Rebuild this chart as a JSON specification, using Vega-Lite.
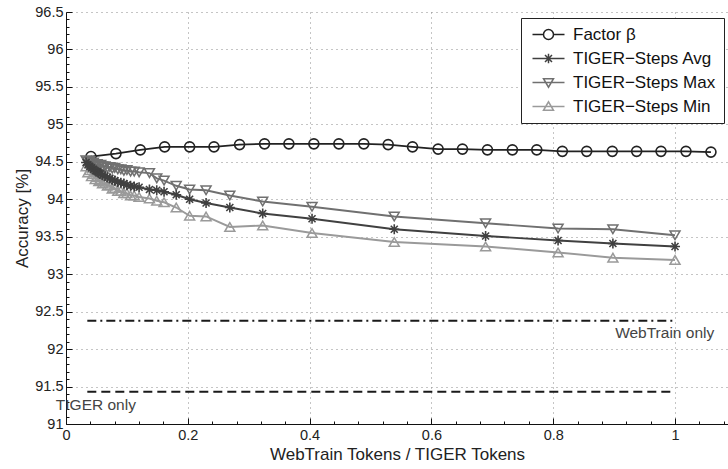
{
  "$schema": "https://vega.github.io/schema/vega-lite/v6.json",
  "width": 662,
  "height": 412,
  "autosize": {"type": "none"},
  "padding": {"left": 66, "top": 12, "right": 0, "bottom": 45},
  "background": "white",
  "config": {
    "view": {"stroke": null},
    "font": "Liberation Sans",
    "axis": {
      "domainColor": "#111",
      "domainWidth": 1,
      "tickColor": "#111",
      "labelFont": "Liberation Sans",
      "labelFontSize": 14.5,
      "labelColor": "#222",
      "titleFont": "Liberation Sans",
      "titleFontSize": 17,
      "titleFontWeight": "normal",
      "titleColor": "#222",
      "gridColor": "#8a8a8a",
      "gridDash": [1, 4],
      "gridWidth": 1,
      "labelOverlap": false,
      "labelFlush": false
    }
  },
  "datasets": {
    "curves": [
      {"series": "Factor β", "x": 0.041, "y": 94.57},
      {"series": "Factor β", "x": 0.082, "y": 94.61},
      {"series": "Factor β", "x": 0.122, "y": 94.66},
      {"series": "Factor β", "x": 0.162, "y": 94.70},
      {"series": "Factor β", "x": 0.203, "y": 94.70},
      {"series": "Factor β", "x": 0.243, "y": 94.70},
      {"series": "Factor β", "x": 0.285, "y": 94.73},
      {"series": "Factor β", "x": 0.326, "y": 94.74},
      {"series": "Factor β", "x": 0.366, "y": 94.74},
      {"series": "Factor β", "x": 0.407, "y": 94.74},
      {"series": "Factor β", "x": 0.448, "y": 94.74},
      {"series": "Factor β", "x": 0.489, "y": 94.74},
      {"series": "Factor β", "x": 0.529, "y": 94.73},
      {"series": "Factor β", "x": 0.569, "y": 94.70},
      {"series": "Factor β", "x": 0.611, "y": 94.67},
      {"series": "Factor β", "x": 0.651, "y": 94.67},
      {"series": "Factor β", "x": 0.692, "y": 94.66},
      {"series": "Factor β", "x": 0.733, "y": 94.66},
      {"series": "Factor β", "x": 0.773, "y": 94.66},
      {"series": "Factor β", "x": 0.815, "y": 94.64},
      {"series": "Factor β", "x": 0.855, "y": 94.64},
      {"series": "Factor β", "x": 0.897, "y": 94.64},
      {"series": "Factor β", "x": 0.937, "y": 94.64},
      {"series": "Factor β", "x": 0.977, "y": 94.64},
      {"series": "Factor β", "x": 1.018, "y": 94.64},
      {"series": "Factor β", "x": 1.059, "y": 94.63},

      {"series": "TIGER−Steps Max", "x": 0.033, "y": 94.52},
      {"series": "TIGER−Steps Max", "x": 0.036, "y": 94.50},
      {"series": "TIGER−Steps Max", "x": 0.039, "y": 94.51},
      {"series": "TIGER−Steps Max", "x": 0.042, "y": 94.48},
      {"series": "TIGER−Steps Max", "x": 0.045, "y": 94.49},
      {"series": "TIGER−Steps Max", "x": 0.048, "y": 94.46},
      {"series": "TIGER−Steps Max", "x": 0.051, "y": 94.47},
      {"series": "TIGER−Steps Max", "x": 0.054, "y": 94.45},
      {"series": "TIGER−Steps Max", "x": 0.057, "y": 94.46},
      {"series": "TIGER−Steps Max", "x": 0.060, "y": 94.44},
      {"series": "TIGER−Steps Max", "x": 0.064, "y": 94.44},
      {"series": "TIGER−Steps Max", "x": 0.068, "y": 94.42},
      {"series": "TIGER−Steps Max", "x": 0.072, "y": 94.43},
      {"series": "TIGER−Steps Max", "x": 0.076, "y": 94.41},
      {"series": "TIGER−Steps Max", "x": 0.080, "y": 94.42},
      {"series": "TIGER−Steps Max", "x": 0.085, "y": 94.40},
      {"series": "TIGER−Steps Max", "x": 0.090, "y": 94.40},
      {"series": "TIGER−Steps Max", "x": 0.095, "y": 94.38},
      {"series": "TIGER−Steps Max", "x": 0.100, "y": 94.39},
      {"series": "TIGER−Steps Max", "x": 0.106, "y": 94.37},
      {"series": "TIGER−Steps Max", "x": 0.112, "y": 94.37},
      {"series": "TIGER−Steps Max", "x": 0.120, "y": 94.36},
      {"series": "TIGER−Steps Max", "x": 0.137, "y": 94.35},
      {"series": "TIGER−Steps Max", "x": 0.149, "y": 94.28},
      {"series": "TIGER−Steps Max", "x": 0.161, "y": 94.25},
      {"series": "TIGER−Steps Max", "x": 0.181, "y": 94.18},
      {"series": "TIGER−Steps Max", "x": 0.203, "y": 94.13},
      {"series": "TIGER−Steps Max", "x": 0.230, "y": 94.12},
      {"series": "TIGER−Steps Max", "x": 0.269, "y": 94.05},
      {"series": "TIGER−Steps Max", "x": 0.323, "y": 93.97},
      {"series": "TIGER−Steps Max", "x": 0.404, "y": 93.90},
      {"series": "TIGER−Steps Max", "x": 0.539, "y": 93.77},
      {"series": "TIGER−Steps Max", "x": 0.689, "y": 93.68},
      {"series": "TIGER−Steps Max", "x": 0.808, "y": 93.61},
      {"series": "TIGER−Steps Max", "x": 0.898, "y": 93.60},
      {"series": "TIGER−Steps Max", "x": 1.000, "y": 93.52},

      {"series": "TIGER−Steps Min", "x": 0.033, "y": 94.44},
      {"series": "TIGER−Steps Min", "x": 0.036, "y": 94.36},
      {"series": "TIGER−Steps Min", "x": 0.039, "y": 94.39},
      {"series": "TIGER−Steps Min", "x": 0.042, "y": 94.31},
      {"series": "TIGER−Steps Min", "x": 0.045, "y": 94.34},
      {"series": "TIGER−Steps Min", "x": 0.048, "y": 94.27},
      {"series": "TIGER−Steps Min", "x": 0.051, "y": 94.30},
      {"series": "TIGER−Steps Min", "x": 0.054, "y": 94.24},
      {"series": "TIGER−Steps Min", "x": 0.057, "y": 94.26},
      {"series": "TIGER−Steps Min", "x": 0.060, "y": 94.21},
      {"series": "TIGER−Steps Min", "x": 0.064, "y": 94.22},
      {"series": "TIGER−Steps Min", "x": 0.068, "y": 94.18},
      {"series": "TIGER−Steps Min", "x": 0.072, "y": 94.19},
      {"series": "TIGER−Steps Min", "x": 0.076, "y": 94.14},
      {"series": "TIGER−Steps Min", "x": 0.080, "y": 94.15},
      {"series": "TIGER−Steps Min", "x": 0.085, "y": 94.11},
      {"series": "TIGER−Steps Min", "x": 0.090, "y": 94.11},
      {"series": "TIGER−Steps Min", "x": 0.095, "y": 94.08},
      {"series": "TIGER−Steps Min", "x": 0.100, "y": 94.08},
      {"series": "TIGER−Steps Min", "x": 0.106, "y": 94.05},
      {"series": "TIGER−Steps Min", "x": 0.112, "y": 94.05},
      {"series": "TIGER−Steps Min", "x": 0.120, "y": 94.03},
      {"series": "TIGER−Steps Min", "x": 0.137, "y": 94.01},
      {"series": "TIGER−Steps Min", "x": 0.149, "y": 93.98},
      {"series": "TIGER−Steps Min", "x": 0.161, "y": 93.96},
      {"series": "TIGER−Steps Min", "x": 0.181, "y": 93.89},
      {"series": "TIGER−Steps Min", "x": 0.203, "y": 93.78},
      {"series": "TIGER−Steps Min", "x": 0.230, "y": 93.77},
      {"series": "TIGER−Steps Min", "x": 0.269, "y": 93.63},
      {"series": "TIGER−Steps Min", "x": 0.323, "y": 93.65},
      {"series": "TIGER−Steps Min", "x": 0.404, "y": 93.55},
      {"series": "TIGER−Steps Min", "x": 0.539, "y": 93.43},
      {"series": "TIGER−Steps Min", "x": 0.689, "y": 93.37},
      {"series": "TIGER−Steps Min", "x": 0.808, "y": 93.29},
      {"series": "TIGER−Steps Min", "x": 0.898, "y": 93.22},
      {"series": "TIGER−Steps Min", "x": 1.000, "y": 93.19},

      {"series": "TIGER−Steps Avg", "x": 0.033, "y": 94.49},
      {"series": "TIGER−Steps Avg", "x": 0.036, "y": 94.46},
      {"series": "TIGER−Steps Avg", "x": 0.039, "y": 94.44},
      {"series": "TIGER−Steps Avg", "x": 0.042, "y": 94.42},
      {"series": "TIGER−Steps Avg", "x": 0.045, "y": 94.40},
      {"series": "TIGER−Steps Avg", "x": 0.048, "y": 94.38},
      {"series": "TIGER−Steps Avg", "x": 0.051, "y": 94.37},
      {"series": "TIGER−Steps Avg", "x": 0.054, "y": 94.35},
      {"series": "TIGER−Steps Avg", "x": 0.057, "y": 94.34},
      {"series": "TIGER−Steps Avg", "x": 0.060, "y": 94.32},
      {"series": "TIGER−Steps Avg", "x": 0.064, "y": 94.31},
      {"series": "TIGER−Steps Avg", "x": 0.068, "y": 94.29},
      {"series": "TIGER−Steps Avg", "x": 0.072, "y": 94.28},
      {"series": "TIGER−Steps Avg", "x": 0.076, "y": 94.26},
      {"series": "TIGER−Steps Avg", "x": 0.080, "y": 94.25},
      {"series": "TIGER−Steps Avg", "x": 0.085, "y": 94.23},
      {"series": "TIGER−Steps Avg", "x": 0.090, "y": 94.22},
      {"series": "TIGER−Steps Avg", "x": 0.095, "y": 94.21},
      {"series": "TIGER−Steps Avg", "x": 0.100, "y": 94.19},
      {"series": "TIGER−Steps Avg", "x": 0.106, "y": 94.18},
      {"series": "TIGER−Steps Avg", "x": 0.112, "y": 94.17},
      {"series": "TIGER−Steps Avg", "x": 0.120, "y": 94.16},
      {"series": "TIGER−Steps Avg", "x": 0.137, "y": 94.13},
      {"series": "TIGER−Steps Avg", "x": 0.149, "y": 94.12},
      {"series": "TIGER−Steps Avg", "x": 0.161, "y": 94.10},
      {"series": "TIGER−Steps Avg", "x": 0.181, "y": 94.06},
      {"series": "TIGER−Steps Avg", "x": 0.203, "y": 94.00},
      {"series": "TIGER−Steps Avg", "x": 0.230, "y": 93.95},
      {"series": "TIGER−Steps Avg", "x": 0.269, "y": 93.89},
      {"series": "TIGER−Steps Avg", "x": 0.323, "y": 93.81},
      {"series": "TIGER−Steps Avg", "x": 0.404, "y": 93.74},
      {"series": "TIGER−Steps Avg", "x": 0.539, "y": 93.60},
      {"series": "TIGER−Steps Avg", "x": 0.689, "y": 93.51},
      {"series": "TIGER−Steps Avg", "x": 0.808, "y": 93.45},
      {"series": "TIGER−Steps Avg", "x": 0.898, "y": 93.41},
      {"series": "TIGER−Steps Avg", "x": 1.000, "y": 93.37}
    ],
    "refs": [
      {"baseline": "WebTrain only", "x": 0.035, "x2": 1.0, "y": 92.38},
      {"baseline": "TIGER only", "x": 0.035, "x2": 1.0, "y": 91.43}
    ],
    "notes": [
      {"label": "WebTrain only", "x": 0.983, "y": 92.22, "side": "right"},
      {"label": "TIGER only", "x": 0.049, "y": 91.25, "side": "left"}
    ]
  },
  "layer": [
    {
      "data": {"name": "curves"},
      "mark": {"type": "line", "strokeWidth": 1.9},
      "encoding": {
        "x": {
          "field": "x", "type": "quantitative",
          "scale": {"domain": [0, 1.087], "nice": false, "zero": false},
          "axis": {
            "title": "WebTrain Tokens / TIGER Tokens",
            "values": [0, 0.04, 0.08, 0.12, 0.16, 0.2, 0.24, 0.28, 0.32, 0.36, 0.4, 0.44, 0.48, 0.52, 0.56, 0.6, 0.64, 0.68, 0.72, 0.76, 0.8, 0.84, 0.88, 0.92, 0.96, 1, 1.04, 1.08],
            "tickCount": 1000,
            "labelExpr": "abs(datum.value*5 - round(datum.value*5)) < 0.001 ? format(datum.value, '~g') : ''",
            "grid": true,
            "gridOpacity": {"condition": {"test": "abs(datum.value*5 - round(datum.value*5)) < 0.001 && datum.value > 0", "value": 1}, "value": 0},
            "tickSize": {"condition": {"test": "abs(datum.value*5 - round(datum.value*5)) < 0.001", "value": -6}, "value": -3},
            "labelPadding": 10,
            "titlePadding": 2
          }
        },
        "y": {
          "field": "y", "type": "quantitative",
          "scale": {"domain": [91, 96.5], "nice": false, "zero": false},
          "axis": {
            "title": "Accuracy [%]",
            "values": [91, 91.1, 91.2, 91.3, 91.4, 91.5, 91.6, 91.7, 91.8, 91.9, 92, 92.1, 92.2, 92.3, 92.4, 92.5, 92.6, 92.7, 92.8, 92.9, 93, 93.1, 93.2, 93.3, 93.4, 93.5, 93.6, 93.7, 93.8, 93.9, 94, 94.1, 94.2, 94.3, 94.4, 94.5, 94.6, 94.7, 94.8, 94.9, 95, 95.1, 95.2, 95.3, 95.4, 95.5, 95.6, 95.7, 95.8, 95.9, 96, 96.1, 96.2, 96.3, 96.4, 96.5],
            "tickCount": 1000,
            "labelExpr": "abs(datum.value*2 - round(datum.value*2)) < 0.001 ? format(datum.value, '~g') : ''",
            "grid": true,
            "gridOpacity": {"condition": {"test": "abs(datum.value*2 - round(datum.value*2)) < 0.001 && datum.value > 91", "value": 1}, "value": 0},
            "tickSize": {"condition": {"test": "abs(datum.value*2 - round(datum.value*2)) < 0.001", "value": -6}, "value": -3},
            "labelPadding": 9,
            "titlePadding": 3
          }
        },
        "color": {
          "field": "series", "type": "nominal",
          "scale": {
            "domain": ["Factor β", "TIGER−Steps Avg", "TIGER−Steps Max", "TIGER−Steps Min"],
            "range": ["#222222", "#404040", "#707070", "#9a9a9a"]
          },
          "legend": {
            "orient": "none",
            "legendX": 455,
            "legendY": 6,
            "title": null,
            "labelFont": "Liberation Sans",
            "labelFontSize": 17,
            "labelColor": "#111",
            "strokeColor": "#222",
            "fillColor": "white",
            "padding": 8,
            "rowPadding": 6,
            "symbolSize": 100,
            "symbolType": "circle",
            "symbolOffset": 11,
            "labelOffset": 16,
            "symbolStrokeWidth": 1.5,
            "encode": {
              "symbols": {
                "update": {
                  "shape": {"signal": "datum.value === 'Factor β' ? 'M-3.2,0L-1,0M1,0L3.2,0M-1,0A1,1,0,1,1,1,0A1,1,0,1,1,-1,0' : datum.value === 'TIGER−Steps Avg' ? 'M-3.2,0L3.2,0M0,-0.95L0,0.95M-0.7,-0.7L0.7,0.7M-0.7,0.7L0.7,-0.7' : datum.value === 'TIGER−Steps Max' ? 'M-3.2,0L3.2,0M-1,-0.75L1,-0.75L0,0.95Z' : 'M-3.2,0L3.2,0M-1,0.75L1,0.75L0,-0.95Z'"},
                  "fill": {"value": "transparent"},
                  "size": {"value": 100},
                  "strokeWidth": {"value": 1.5}
                }
              }
            }
          }
        }
      }
    },
    {
      "data": {"name": "curves"},
      "transform": [{"filter": "datum.series === 'Factor β'"}],
      "mark": {"type": "point", "shape": "circle", "filled": false, "strokeWidth": 1.6, "size": 100, "opacity": 1, "color": "#222222"},
      "encoding": {
        "x": {"field": "x", "type": "quantitative"},
        "y": {"field": "y", "type": "quantitative"}
      }
    },
    {
      "data": {"name": "curves"},
      "transform": [{"filter": "datum.series === 'TIGER−Steps Max'"}],
      "mark": {"type": "point", "shape": "triangle-down", "filled": false, "strokeWidth": 1.5, "size": 100, "opacity": 1, "color": "#707070"},
      "encoding": {
        "x": {"field": "x", "type": "quantitative"},
        "y": {"field": "y", "type": "quantitative"}
      }
    },
    {
      "data": {"name": "curves"},
      "transform": [{"filter": "datum.series === 'TIGER−Steps Min'"}],
      "mark": {"type": "point", "shape": "triangle-up", "filled": false, "strokeWidth": 1.5, "size": 100, "opacity": 1, "color": "#9a9a9a"},
      "encoding": {
        "x": {"field": "x", "type": "quantitative"},
        "y": {"field": "y", "type": "quantitative"}
      }
    },
    {
      "data": {"name": "curves"},
      "transform": [{"filter": "datum.series === 'TIGER−Steps Avg'"}],
      "mark": {"type": "point", "shape": "M-1,0L1,0M0,-1L0,1M-0.7,-0.7L0.7,0.7M-0.7,0.7L0.7,-0.7", "filled": false, "strokeWidth": 1.6, "size": 100, "opacity": 1, "color": "#404040"},
      "encoding": {
        "x": {"field": "x", "type": "quantitative"},
        "y": {"field": "y", "type": "quantitative"}
      }
    },
    {
      "data": {"name": "refs"},
      "mark": {"type": "rule", "strokeWidth": 2},
      "encoding": {
        "x": {"field": "x", "type": "quantitative"},
        "x2": {"field": "x2"},
        "y": {"field": "y", "type": "quantitative"},
        "color": {"value": "#1a1a1a"},
        "strokeDash": {
          "field": "baseline", "type": "nominal",
          "scale": {"domain": ["WebTrain only", "TIGER only"], "range": [[9, 4, 2, 4], [9, 5]]},
          "legend": null
        }
      }
    },
    {
      "data": {"name": "notes"},
      "mark": {"type": "text", "font": "Liberation Sans", "fontSize": 15.5, "color": "#444", "baseline": "middle"},
      "encoding": {
        "x": {"field": "x", "type": "quantitative"},
        "y": {"field": "y", "type": "quantitative"},
        "text": {"field": "label"},
        "align": {"field": "side", "type": "nominal", "scale": null}
      }
    }
  ]
}
